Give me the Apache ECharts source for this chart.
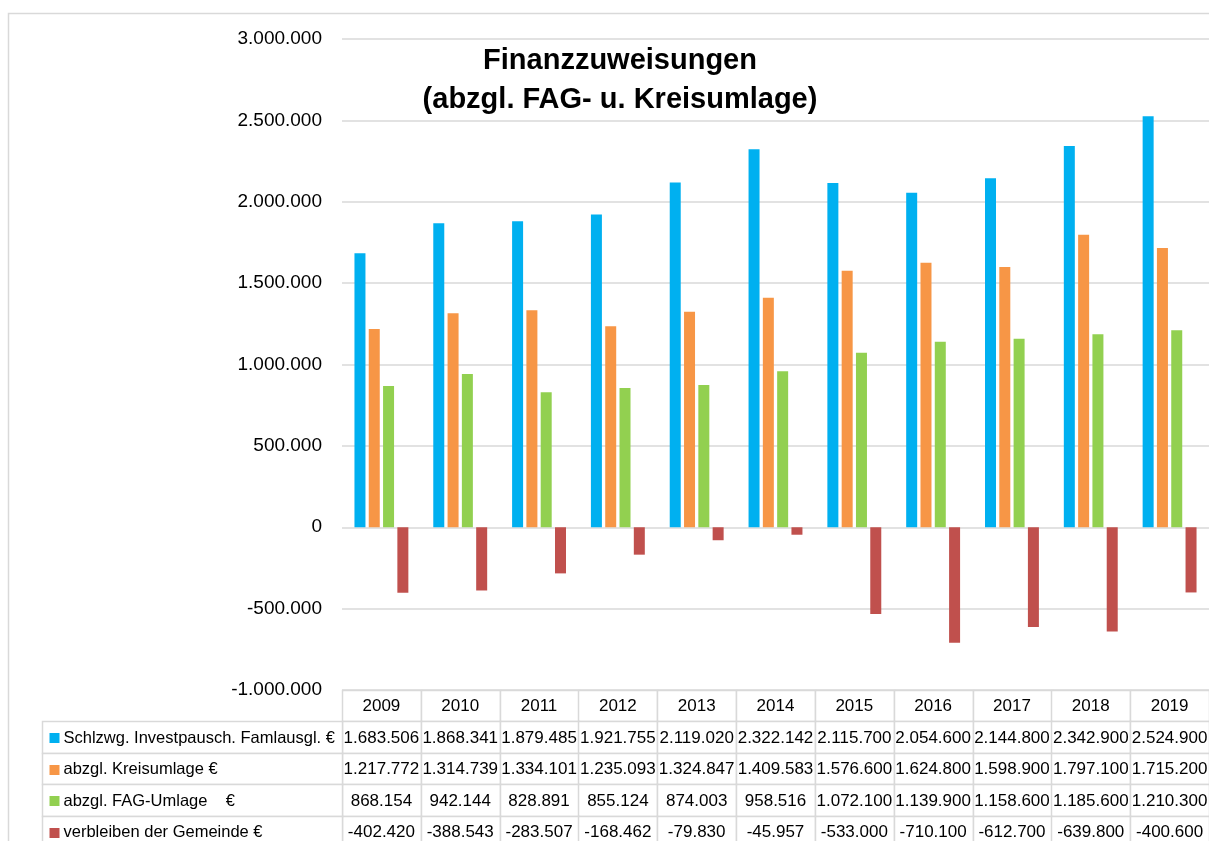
<!DOCTYPE html>
<html>
<head>
<meta charset="utf-8">
<script src="https://cdn.jsdelivr.net/npm/echarts@6/dist/echarts.min.js"></script>
<style>html,body{margin:0;padding:0;background:#fff;}#c{width:1209px;height:841px;}</style>
</head>
<body>
<div id="c"></div>
<script>
const years = ['2009','2010','2011','2012','2013','2014','2015','2016','2017','2018','2019'];
const seriesNames = ['Schlzwg. Investpausch. Famlausgl. €','abzgl. Kreisumlage €','abzgl. FAG-Umlage    €','verbleiben der Gemeinde €'];
const schlzwg = [1683506,1868341,1879485,1921755,2119020,2322142,2115700,2054600,2144800,2342900,2524900];
const kreisumlage = [1217772,1314739,1334101,1235093,1324847,1409583,1576600,1624800,1598900,1797100,1715200];
const fagUmlage = [868154,942144,828891,855124,874003,958516,1072100,1139900,1158600,1185600,1210300];
const verbleiben = [-402420,-388543,-283507,-168462,-79830,-45957,-533000,-710100,-612700,-639800,-400600];
const yTicks = {min:-1000000, max:3000000, interval:500000};
const titleText = 'Finanzzuweisungen\n(abzgl. FAG- u. Kreisumlage)';

const colors = ['#00B0F0','#F79646','#92D050','#C0504D'];
const values = [schlzwg, kreisumlage, fagUmlage, verbleiben];
const FONT = 'Liberation Sans';
const GRID = '#d9d9d9';

function fmt(v){
  const s = Math.abs(v).toString().replace(/\B(?=(\d{3})+(?!\d))/g,'.');
  return (v<0?'-':'') + s;
}

// table cells: [column index, row index]  (row 0 = header)
const cellData = [], cellText = [];
years.forEach((y,i)=>{ cellData.push([i,0]); cellText.push(y); });
values.forEach((arr,r)=>{ arr.forEach((v,i)=>{ cellData.push([i,r+1]); cellText.push(fmt(v)); }); });
const labelData = seriesNames.map((n,r)=>[0,r+1]);
const visibleRows = 4.8; // rows of the table visible above the picture's lower edge

function cellRect(api){
  const col = api.value(0), row = api.value(1);
  const a = api.coord([col, row]);
  const b = api.coord([col, row+1]);
  const w = api.size([1,0])[0];
  const x0 = Math.round(a[0]-w/2)+0.5;
  const y0 = Math.round(a[1])+0.5;
  const y1 = Math.round(b[1])+0.5;
  return {x:x0, y:y0, width:Math.round(w), height:y1-y0, cx:a[0], cy:(a[1]+b[1])/2};
}

const chart = echarts.init(document.getElementById('c'));
const option = {
  animation:false,
  backgroundColor:'#fff',
  title:{
    text:titleText, left:615, top:36, textAlign:'center',
    textStyle:{fontFamily:FONT, fontWeight:'bold', fontSize:29, lineHeight:39, color:'#000'}
  },
  graphic:[{
    type:'polyline', silent:true,
    shape:{points:[[8.5,900],[8.5,13.5],[1300,13.5]]},
    style:{stroke:GRID, lineWidth:1.5, fill:null}
  }],
  grid:[
    {left:342, top:39, width:870, height:651},
    {left:342, top:690, width:870, bottom:0},
    {left:42, top:690, width:300, bottom:0}
  ],
  xAxis:[
    {gridIndex:0, type:'category', data:years, axisLine:{show:false}, axisTick:{show:false}, axisLabel:{show:false}},
    {gridIndex:1, type:'category', data:years, show:false},
    {gridIndex:2, type:'category', data:['lbl'], show:false}
  ],
  yAxis:[
    {gridIndex:0, type:'value', min:yTicks.min, max:yTicks.max, interval:yTicks.interval,
     axisLine:{show:false}, axisTick:{show:false},
     axisLabel:{formatter:fmt, fontFamily:FONT, fontSize:19, color:'#000', margin:20},
     splitLine:{lineStyle:{color:GRID, width:1.5}}},
    {gridIndex:1, type:'value', min:0, max:visibleRows, inverse:true, show:false},
    {gridIndex:2, type:'value', min:0, max:visibleRows, inverse:true, show:false}
  ],
  series:[
    ...values.map((arr,k)=>({
      type:'bar', name:seriesNames[k], data:arr, xAxisIndex:0, yAxisIndex:0,
      barWidth:11, barGap:'30%',
      itemStyle:{color:colors[k]}
    })),
    {
      type:'custom', xAxisIndex:1, yAxisIndex:1, silent:true, clip:false,
      data:cellData,
      renderItem:function(params, api){
        const r = cellRect(api);
        return {type:'group', children:[
          {type:'rect', shape:{x:r.x,y:r.y,width:r.width,height:r.height}, style:{fill:'#fff', stroke:GRID, lineWidth:1.5}},
          {type:'text', style:{x:r.cx, y:r.cy+1, text:cellText[params.dataIndex], align:'center', verticalAlign:'middle',
            font:'17px "'+FONT+'"', fill:'#000'}}
        ]};
      }
    },
    {
      type:'custom', xAxisIndex:2, yAxisIndex:2, silent:true, clip:false,
      data:labelData,
      renderItem:function(params, api){
        const r = cellRect(api);
        const k = params.dataIndex;
        return {type:'group', children:[
          {type:'rect', shape:{x:r.x,y:r.y,width:r.width,height:r.height}, style:{fill:'#fff', stroke:GRID, lineWidth:1.5}},
          {type:'rect', shape:{x:r.x+7,y:Math.round(r.cy)-4,width:10,height:10}, style:{fill:colors[k]}},
          {type:'text', style:{x:r.x+21, y:r.cy+1, text:seriesNames[k], align:'left', verticalAlign:'middle',
            font:'16.5px "'+FONT+'"', fill:'#000'}}
        ]};
      }
    }
  ]
};
chart.setOption(option);
</script>
</body>
</html>
